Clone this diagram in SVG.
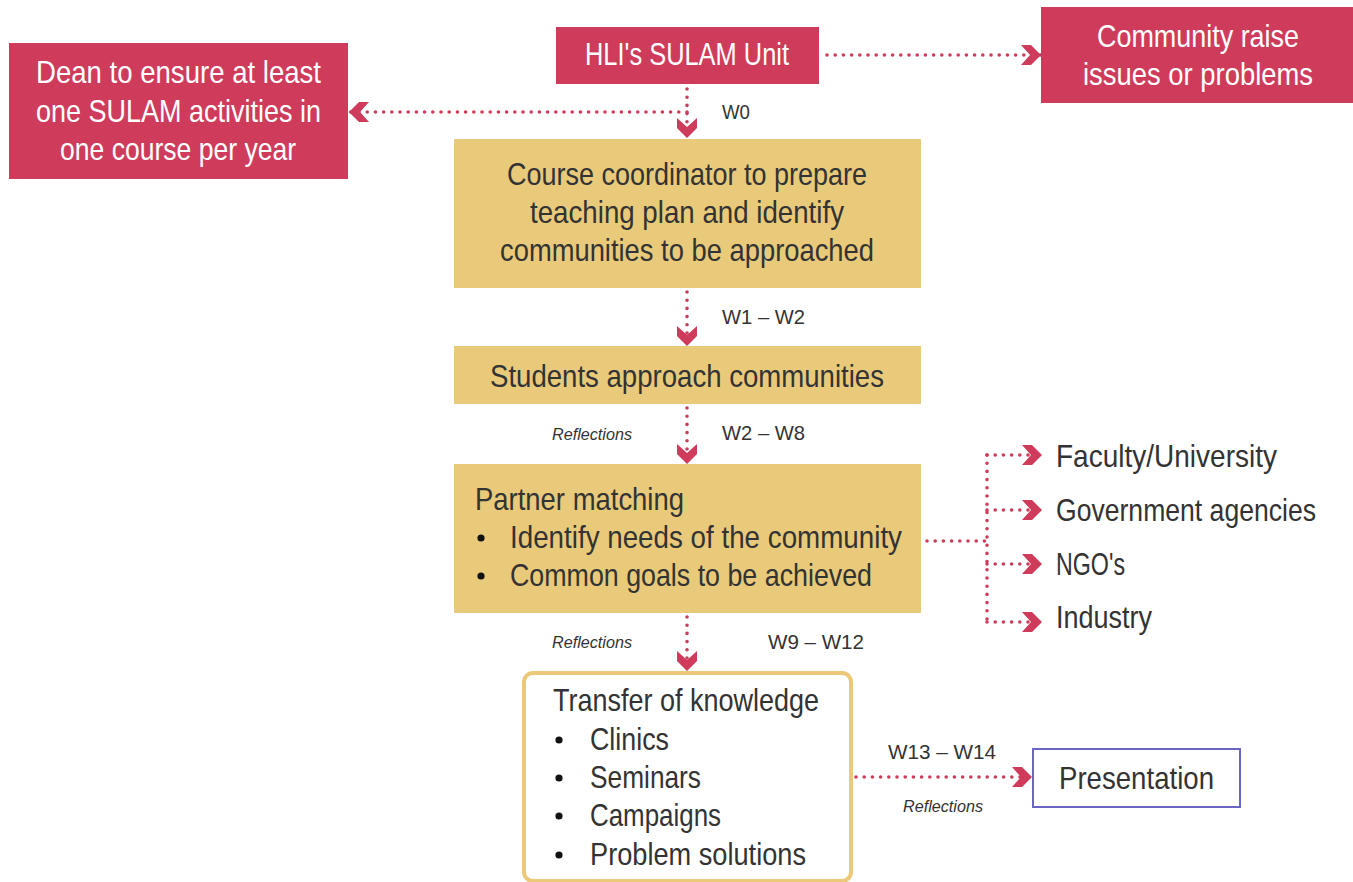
<svg xmlns="http://www.w3.org/2000/svg" width="1353" height="882" viewBox="0 0 1353 882">
<style>
.red{fill:#cf3b5b}
.gold{fill:#e9ca7b}
.wt{fill:#ffffff;font-family:"Liberation Sans",Arial,sans-serif;font-size:32px}
.dk{fill:#333333;font-family:"Liberation Sans",Arial,sans-serif;font-size:32px}
.wk{fill:#333333;font-family:"Liberation Sans",Arial,sans-serif;font-size:21px}
.rf{fill:#333333;font-family:"Liberation Sans",Arial,sans-serif;font-size:17px;font-style:italic}
.dot{fill:none;stroke:#cf3b5b;stroke-width:3.6;stroke-linecap:round;stroke-dasharray:0 8.2}
.bul{fill:#111111}
</style>
<defs>
<marker id="chev" markerUnits="userSpaceOnUse" viewBox="-21 -11 22 22" refX="0" refY="0" markerWidth="22" markerHeight="22" orient="auto" overflow="visible">
<polygon points="-20,-10 -10,-10 0,0 -10,10 -20,10 -11,0" fill="#cf3b5b"/>
</marker>
</defs>
<rect width="1353" height="882" fill="#ffffff"/>

<g id="connectors">
<path class="dot" d="M687,89 V138" marker-end="url(#chev)"/>
<path class="dot" d="M687,112 H349" marker-end="url(#chev)"/>
<path class="dot" d="M827,55 H1041" marker-end="url(#chev)"/>
<path class="dot" d="M687,292 V346" marker-end="url(#chev)"/>
<path class="dot" d="M687,408 V464" marker-end="url(#chev)"/>
<path class="dot" d="M687,617 V671" marker-end="url(#chev)"/>
<path class="dot" d="M927,541 H987"/>
<path class="dot" d="M987,455 V623"/>
<path class="dot" d="M987,455 H1042" marker-end="url(#chev)"/>
<path class="dot" d="M987,510 H1042" marker-end="url(#chev)"/>
<path class="dot" d="M987,564 H1042" marker-end="url(#chev)"/>
<path class="dot" d="M987,622 H1042" marker-end="url(#chev)"/>
<path class="dot" d="M856,777 H1032" marker-end="url(#chev)"/>
<text class="wk" x="722" y="119" textLength="28" lengthAdjust="spacingAndGlyphs">W0</text>
<text class="wk" x="722" y="324" textLength="83" lengthAdjust="spacingAndGlyphs">W1 – W2</text>
<text class="wk" x="722" y="440" textLength="83" lengthAdjust="spacingAndGlyphs">W2 – W8</text>
<text class="rf" x="552" y="440" textLength="80" lengthAdjust="spacingAndGlyphs">Reflections</text>
<text class="wk" x="768" y="649" textLength="96" lengthAdjust="spacingAndGlyphs">W9 – W12</text>
<text class="rf" x="552" y="648" textLength="80" lengthAdjust="spacingAndGlyphs">Reflections</text>
<text class="wk" x="888" y="759" textLength="108" lengthAdjust="spacingAndGlyphs">W13 – W14</text>
<text class="rf" x="903" y="812" textLength="80" lengthAdjust="spacingAndGlyphs">Reflections</text>
</g>

<g id="hli">
<rect class="red" x="556" y="27" width="263" height="57"/>
<text class="wt" x="585" y="65" textLength="204" lengthAdjust="spacingAndGlyphs">HLI's SULAM Unit</text>
</g>

<g id="community">
<rect class="red" x="1041" y="7" width="312" height="96"/>
<text class="wt" x="1097" y="47" textLength="202" lengthAdjust="spacingAndGlyphs">Community raise</text>
<text class="wt" x="1083" y="85" textLength="230" lengthAdjust="spacingAndGlyphs">issues or problems</text>
</g>

<g id="dean">
<rect class="red" x="9" y="43" width="339" height="136"/>
<text class="wt" x="36" y="83" textLength="285" lengthAdjust="spacingAndGlyphs">Dean to ensure at least</text>
<text class="wt" x="36" y="122" textLength="285" lengthAdjust="spacingAndGlyphs">one SULAM activities in</text>
<text class="wt" x="60" y="160" textLength="236" lengthAdjust="spacingAndGlyphs">one course per year</text>
</g>

<g id="coordinator">
<rect class="gold" x="454" y="139" width="467" height="149"/>
<text class="dk" x="507" y="185" textLength="360" lengthAdjust="spacingAndGlyphs">Course coordinator to prepare</text>
<text class="dk" x="530" y="223" textLength="314" lengthAdjust="spacingAndGlyphs">teaching plan and identify</text>
<text class="dk" x="500" y="261" textLength="374" lengthAdjust="spacingAndGlyphs">communities to be approached</text>
</g>

<g id="students">
<rect class="gold" x="454" y="346" width="467" height="58"/>
<text class="dk" x="490" y="387" textLength="394" lengthAdjust="spacingAndGlyphs">Students approach communities</text>
</g>

<g id="partner">
<rect class="gold" x="454" y="464" width="467" height="149"/>
<text class="dk" x="475" y="510" textLength="209" lengthAdjust="spacingAndGlyphs">Partner matching</text>
<circle class="bul" cx="481" cy="538" r="3.6"/>
<text class="dk" x="510" y="548" textLength="392" lengthAdjust="spacingAndGlyphs">Identify needs of the community</text>
<circle class="bul" cx="481" cy="576" r="3.6"/>
<text class="dk" x="510" y="586" textLength="362" lengthAdjust="spacingAndGlyphs">Common goals to be achieved</text>
</g>

<g id="transfer">
<rect x="524" y="673" width="327" height="208" rx="9" fill="#ffffff" stroke="#ecc979" stroke-width="4"/>
<text class="dk" x="553" y="711" textLength="266" lengthAdjust="spacingAndGlyphs">Transfer of knowledge</text>
<circle class="bul" cx="559" cy="740" r="3.6"/>
<text class="dk" x="590" y="750" textLength="79" lengthAdjust="spacingAndGlyphs">Clinics</text>
<circle class="bul" cx="559" cy="778" r="3.6"/>
<text class="dk" x="590" y="788" textLength="111" lengthAdjust="spacingAndGlyphs">Seminars</text>
<circle class="bul" cx="559" cy="816" r="3.6"/>
<text class="dk" x="590" y="826" textLength="131" lengthAdjust="spacingAndGlyphs">Campaigns</text>
<circle class="bul" cx="559" cy="855" r="3.6"/>
<text class="dk" x="590" y="865" textLength="216" lengthAdjust="spacingAndGlyphs">Problem solutions</text>
</g>

<g id="presentation">
<rect x="1033" y="749" width="207" height="58" fill="#ffffff" stroke="#6b66c4" stroke-width="2"/>
<text class="dk" x="1059" y="789" textLength="155" lengthAdjust="spacingAndGlyphs">Presentation</text>
</g>

<g id="faculty"><text class="dk" x="1056" y="467" textLength="221" lengthAdjust="spacingAndGlyphs">Faculty/University</text></g>
<g id="government"><text class="dk" x="1056" y="521" textLength="260" lengthAdjust="spacingAndGlyphs">Government agencies</text></g>
<g id="ngo"><text class="dk" x="1056" y="575" textLength="69" lengthAdjust="spacingAndGlyphs">NGO's</text></g>
<g id="industry"><text class="dk" x="1056" y="628" textLength="96" lengthAdjust="spacingAndGlyphs">Industry</text></g>
</svg>
